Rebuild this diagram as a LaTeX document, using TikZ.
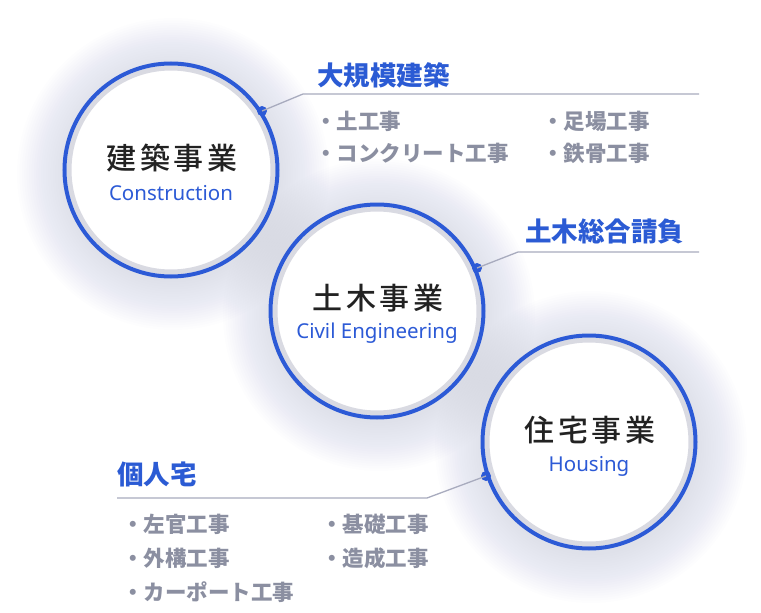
\documentclass[tikz,border=0pt]{standalone}
\usepackage{fontspec}
\newfontfamily\cjk{Noto Sans CJK JP}
\newfontfamily\cjkm{Noto Sans CJK JP}[UprightFont={* Medium}]
\newfontfamily\latin{Noto Sans}
\definecolor{cblue}{HTML}{2C5AD6}
\definecolor{hblue}{HTML}{2B5BD4}
\definecolor{itemgrey}{HTML}{8B8FA1}
\definecolor{linegrey}{HTML}{A8ABBE}
\definecolor{ringgrey}{HTML}{D9DAE2}
\definecolor{shadowc}{HTML}{6A6E82}
\definecolor{titleblack}{HTML}{222222}
\tikzset{
  heading/.style={anchor=west, inner sep=0pt, text=hblue, font=\cjk\fontsize{26.5}{26.5}\selectfont\bfseries},
  item/.style={anchor=west, inner sep=0pt, text=itemgrey, font=\cjk\fontsize{21.5}{21.5}\selectfont\bfseries},
  ctitle/.style={inner sep=0pt, text=titleblack, font=\cjkm\fontsize{30}{30}\selectfont},
  csub/.style={inner sep=0pt, text=cblue, font=\latin\fontsize{20.5}{20.5}\selectfont},
  leader/.style={draw=linegrey, line width=1.3pt},
  pin/.style={circle, fill=cblue, minimum size=10pt, inner sep=0pt},
}
\newcommand{\shadowdisc}[2]{%
  \foreach \k in {0,...,20}{
    \fill[shadowc, opacity=0.006] (#1,#2) circle[radius=108+\k*2.4];
  }
}
\newcommand{\bizcircle}[2]{%
  \fill[white] (#1,#2) circle[radius=106];
  \draw[ringgrey, line width=5pt] (#1,#2) circle[radius=102];
  \draw[cblue, line width=4pt] (#1,#2) circle[radius=106.5];
}
\newcommand{\spaced}[1]{\addfontfeatures{LetterSpace=12}#1}
\begin{document}
\begin{tikzpicture}[x=1pt,y=-1pt]
\useasboundingbox (0,0) rectangle (761,613);
\fill[white] (0,0) rectangle (761,613);
% shadows
\shadowdisc{173}{174}
\shadowdisc{379}{315}
\shadowdisc{591}{447}
% circles
\bizcircle{171}{170}
\bizcircle{377}{311}
\bizcircle{589}{442}
% circle 1
\node[ctitle] (t1) at (172,158) {\spaced{建築事業}};
\node[csub] (s1) at (171,193) {Construction};
\node[pin] (p1) at (262,111) {};
\coordinate (k1) at (303,94);
\coordinate (e1) at (699,94);
\draw[leader] (p1.center) -- (k1) -- (e1);
\node[heading] (h1) at (317,75) {大規模建築};
\node[item] (i11) at (315,121) {・土工事};
\node[item] (i12) at (315,153) {・コンクリート工事};
\node[item] (i13) at (542,121) {・足場工事};
\node[item] (i14) at (542,153) {・鉄骨工事};
% circle 2
\node[ctitle] (t2) at (378,298) {\spaced{土木事業}};
\node[csub] (s2) at (377,333) {Civil Engineering};
\node[pin] (p2) at (477,268) {};
\coordinate (k2) at (518,252);
\coordinate (e2) at (699,252);
\draw[leader] (p2.center) -- (k2) -- (e2);
\node[heading] (h2) at (525,231) {土木総合請負};
% circle 3
\node[ctitle] (t3) at (590,430) {\spaced{住宅事業}};
\node[csub] (s3) at (589,466) {Housing};
\node[pin] (p3) at (486,476) {};
\coordinate (k3) at (427,498);
\coordinate (e3) at (117,498);
\draw[leader] (p3.center) -- (k3) -- (e3);
\node[heading] (h3) at (117,474) {個人宅};
\node[item] (i31) at (122,524) {・左官工事};
\node[item] (i32) at (122,558) {・外構工事};
\node[item] (i33) at (122,592) {・カーポート工事};
\node[item] (i34) at (321,524) {・基礎工事};
\node[item] (i35) at (321,558) {・造成工事};
\end{tikzpicture}
\end{document}
